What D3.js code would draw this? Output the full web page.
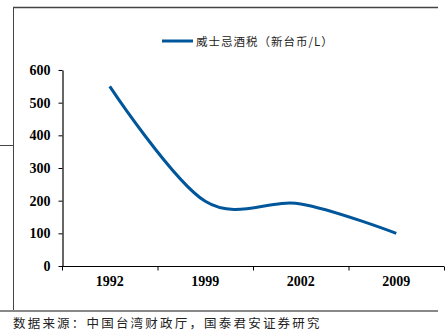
<!DOCTYPE html>
<html><head><meta charset="utf-8">
<script src="https://cdn.jsdelivr.net/npm/d3@7"></script>
<style>body{margin:0;background:#fff}svg{display:block}</style>
</head><body>
<script>
const categories = ["1992","1999","2002","2009"];
const values = [550, 198, 190, 100];
const yTicks = [0,100,200,300,400,500,600];
const seriesName = "威士忌酒税（新台币/L）";
const sourceText = "数据来源：中国台湾财政厅，国泰君安证券研究";

const W = 447, H = 333;
const svg = d3.select("body").append("svg").attr("width", W).attr("height", H);

// frame lines
svg.append("line").attr("x1",13).attr("x2",438).attr("y1",7.5).attr("y2",7.5).attr("stroke","#444").attr("stroke-width",1.5);
svg.append("line").attr("x1",13.5).attr("x2",13.5).attr("y1",7).attr("y2",311).attr("stroke","#444").attr("stroke-width",1);
svg.append("line").attr("x1",0).attr("x2",13).attr("y1",145.5).attr("y2",145.5).attr("stroke","#444").attr("stroke-width",1);
svg.append("line").attr("x1",0).attr("x2",438).attr("y1",311).attr("y2",311).attr("stroke","#888").attr("stroke-width",2);

const x = d3.scaleBand().domain(categories).range([62, 444]);
const y = d3.scaleLinear().domain([0, 600]).range([266, 70]);

const yAxis = d3.axisLeft(y).tickValues(yTicks).tickSize(4).tickSizeOuter(0).tickPadding(8);
const gy = svg.append("g").attr("transform","translate(62.5,0)").call(yAxis);
gy.select(".domain").attr("stroke","#000").attr("stroke-width",1.2);
gy.selectAll(".tick line").attr("stroke","#000");
gy.selectAll("text").attr("font-family","'Liberation Serif',serif").attr("font-weight","bold").attr("font-size",14).attr("fill","#000");

const xAxis = d3.axisBottom(x).tickSize(0).tickPadding(10);
const gx = svg.append("g").attr("transform","translate(0,266.5)").call(xAxis);
gx.select(".domain").attr("stroke","#000").attr("stroke-width",1.2).attr("d","M62,0H444");
gx.selectAll("text").attr("font-family","'Liberation Serif',serif").attr("font-weight","bold").attr("font-size",14).attr("fill","#000");
// band boundary ticks
const bounds = categories.map(c => x(c)).concat([x.range()[1]]);
gx.selectAll("line.bt").data(bounds).enter().append("line").attr("class","bt")
  .attr("x1",d=>d+0.5).attr("x2",d=>d+0.5).attr("y1",0).attr("y2",4).attr("stroke","#000");

const line = d3.line()
  .x((d,i)=> x(categories[i]) + x.bandwidth()/2)
  .y(d=> y(d))
  .curve(d3.curveCardinal.tension(0));
svg.append("path").datum(values).attr("d", line).attr("fill","none").attr("stroke","#00569a").attr("stroke-width",3);

// legend
svg.append("line").attr("x1",162).attr("x2",193).attr("y1",41).attr("y2",41).attr("stroke","#00569a").attr("stroke-width",3);
svg.append("text").attr("x",196).attr("y",45.5).text(seriesName)
  .attr("font-family","'Noto Sans CJK SC',sans-serif").attr("font-size",11.5).attr("fill","#222").attr("letter-spacing",1);

// source
svg.append("text").attr("x",13).attr("y",328).text(sourceText)
  .attr("font-family","'Noto Sans CJK SC',sans-serif").attr("font-size",12.5).attr("fill","#222").attr("letter-spacing",2.2);
</script>
</body></html>
